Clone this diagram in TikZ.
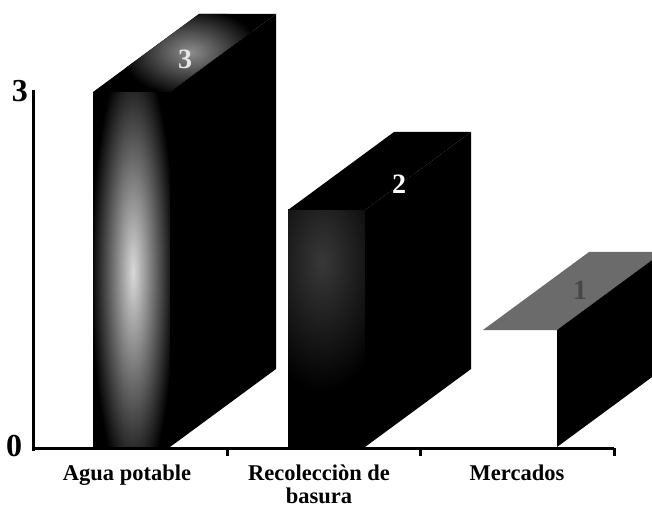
\documentclass[tikz,border=0pt]{standalone}
\usepackage{fontspec}
\setmainfont{Liberation Serif}
\tikzset{
  face/.style={fill=black, draw=none},
  axisline/.style={line width=3pt, draw=black},
  tick/.style={line width=3pt, draw=black},
  catlabel/.style={font=\fontsize{22.5}{22.5}\selectfont\bfseries, anchor=base, align=center, inner sep=0pt},
  vallabel/.style={font=\fontsize{32}{32}\selectfont\bfseries, inner sep=0pt},
  toplabel/.style={font=\fontsize{28}{28}\selectfont\bfseries, inner sep=0pt}
}
\begin{document}
\begin{tikzpicture}[x=1pt,y=-1pt]
\useasboundingbox (0,0) rectangle (652,510);
\clip (0,0) rectangle (652,510);
% ---------- bar 1: Agua potable (3)
\fill[face] (93,92) rectangle (170,447);
\begin{scope}
  \clip (93,92) rectangle (170,447);
  \shade[inner color=black!15, outer color=black] (133,272) ellipse [x radius=42, y radius=220];
\end{scope}
\fill[face] (93,92) -- (199,14) -- (276,14) -- (170,92) -- cycle;
\begin{scope}
  \clip (93,92) -- (199,14) -- (276,14) -- (170,92) -- cycle;
  \shade[inner color=black!45, outer color=black] (190,52) ellipse [x radius=70, y radius=45];
\end{scope}
\fill[face] (170,92) -- (276,14) -- (276,369) -- (170,447) -- cycle;
% ---------- bar 2: Recoleccion de basura (2)
\fill[face] (288,210) rectangle (365,447);
\begin{scope}
  \clip (288,210) rectangle (365,447);
  \shade[inner color=black!78, outer color=black] (322,262) ellipse [x radius=70, y radius=130];
\end{scope}
\fill[face] (288,210) -- (394,132) -- (471,132) -- (365,210) -- cycle;
\fill[face] (365,210) -- (471,132) -- (471,369) -- (365,447) -- cycle;
% ---------- bar 3: Mercados (1)
\fill[black!58] (483,330) -- (589,252) -- (663,252) -- (557,330) -- cycle;
\fill[face] (557,330) -- (663,252) -- (663,369) -- (557,447) -- cycle;
% ---------- axes
\coordinate (ytop) at (33,90);
\coordinate (origin) at (33,448);
\coordinate (xend) at (614,448);
\draw[axisline] (ytop) -- (33,451);
\draw[axisline] (origin) -- (xend);
\coordinate (t1) at (227,448);
\coordinate (t2) at (420,448);
\coordinate (t3) at (614,448);
\draw[tick] (t1) -- ++(0,8);
\draw[tick] (t2) -- ++(0,8);
\draw[tick] (t3) -- ++(0,8);
% ---------- value labels
\node[vallabel] (v3) at (20,91) {3};
\node[vallabel] (v0) at (14,446) {0};
\node[toplabel, text=white!90!black] (b3) at (185,59) {3};
\node[toplabel, text=white] (b2) at (399,184) {2};
\node[toplabel, text=black!72] (b1) at (580,290) {1};
% ---------- category labels
\node[catlabel] (c1) at (127,480) {Agua potable};
\node[catlabel] (c2) at (319,480) {Recolecciòn de};
\node[catlabel] (c2b) at (319,503) {basura};
\node[catlabel] (c3) at (517,480) {Mercados};
\end{tikzpicture}
\end{document}
